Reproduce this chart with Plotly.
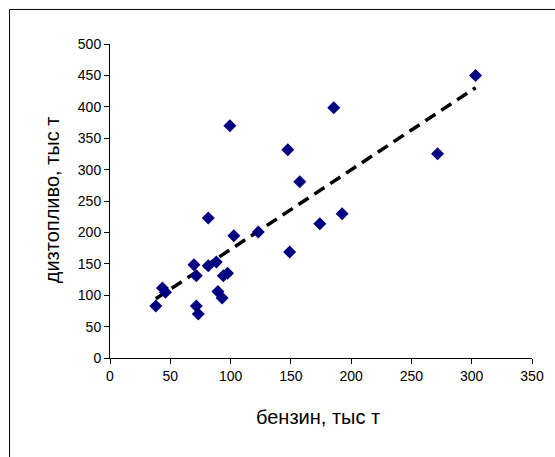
import numpy as np
import plotly.graph_objects as go

benzin = [38, 43.5, 46, 69.6, 71.6, 71.6, 73.2, 81.5, 81.5, 88.2, 89.5, 93, 94, 97.5,
          99.4, 102.7, 123, 147.5, 149, 157.4, 174, 185.6, 192.5, 271.7, 303.2]
dizt = [83, 111.5, 104.5, 148.6, 131, 83, 70, 223, 147, 153, 106, 95.5, 131, 135,
        370, 194.7, 200.6, 331.7, 168.8, 280.7, 213.9, 398.6, 229.8, 325.3, 450]

x_title = "бензин, тыс т"
y_title = "дизтопливо, тыс т"

slope, intercept = np.polyfit(benzin, dizt, 1)
tx = np.array([min(benzin), max(benzin)])
ty = slope * tx + intercept

fig = go.Figure()
fig.add_trace(go.Scatter(x=tx, y=ty, mode="lines",
                         line=dict(color="black", width=3.5, dash="12px,7px"),
                         hoverinfo="skip", showlegend=False))
fig.add_trace(go.Scatter(x=benzin, y=dizt, mode="markers",
                         marker=dict(symbol="diamond", size=10, color="#000080",
                                     line=dict(width=0)),
                         showlegend=False))

font = "Liberation Sans, Arial, sans-serif"
axis_common = dict(showgrid=False, zeroline=False, showline=True, linecolor="black",
                   linewidth=1, ticks="outside", ticklen=5, tickcolor="black",
                   tickfont=dict(family=font, size=14, color="black"))

fig.update_layout(
    width=555, height=457, autosize=False,
    margin=dict(l=110, r=23, t=44, b=99),
    paper_bgcolor="white", plot_bgcolor="white",
    xaxis=dict(range=[0, 350], dtick=50, tick0=0, **axis_common),
    yaxis=dict(range=[0, 500], dtick=50, tick0=0, **axis_common),
    annotations=[
        dict(text=x_title, xref="paper", yref="paper", x=0.493, y=-0.188,
             showarrow=False, font=dict(family=font, size=20, color="black"),
             xanchor="center", yanchor="middle"),
        dict(text=y_title, xref="paper", yref="paper", x=-0.137, y=0.503,
             showarrow=False, textangle=-90,
             font=dict(family=font, size=20, color="black"),
             xanchor="center", yanchor="middle"),
    ],
    shapes=[dict(type="rect", xref="paper", yref="paper",
                 x0=-0.238, y0=-0.5, x1=1.3, y1=1.110,
                 line=dict(color="black", width=1), layer="below")],
)

fig.write_html("out.html")
